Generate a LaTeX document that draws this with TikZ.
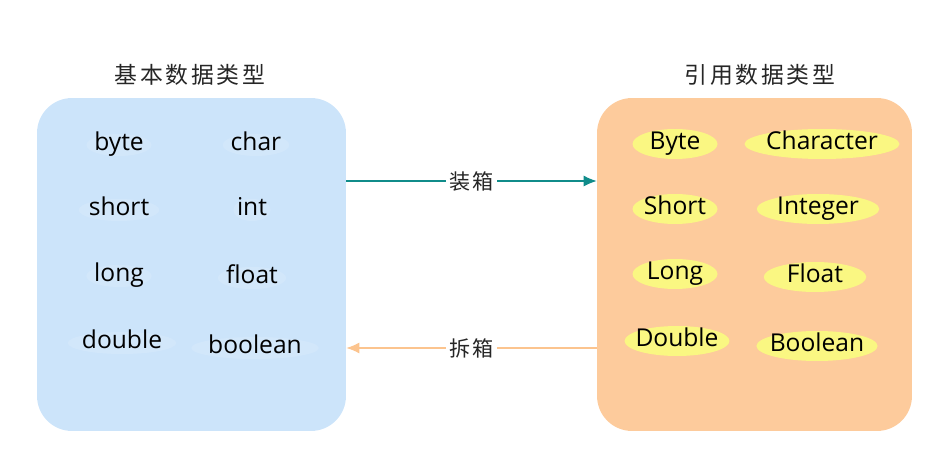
\documentclass[tikz,border=0pt]{standalone}
\usepackage{fontspec}
\setmainfont{Open Sans}
\newfontfamily\cjk[LetterSpace=12]{Noto Sans CJK SC}
\usepackage{xcolor}
\definecolor{PrimBlue}{RGB}{204,228,250}
\definecolor{RefOrange}{RGB}{253,203,156}
\definecolor{WrapYellow}{RGB}{250,247,130}
\definecolor{BoxTeal}{RGB}{16,140,138}
\definecolor{UnboxOrange}{RGB}{252,196,142}
\usetikzlibrary{positioning,arrows.meta,shapes,calc}

\begin{document}
\begin{tikzpicture}[x=0.02cm, y=-0.02cm,
    grp/.style={rectangle, rounded corners=0.7cm, minimum width=6.18cm, minimum height=6.66cm},
    ttl/.style={font=\cjk\fontsize{13}{15}\selectfont, text=black!85},
    prim/.style={font=\fontsize{14}{16}\selectfont, ellipse, fill=white, fill opacity=0.12, text opacity=1,
                 text height=1.45ex, text depth=0.2ex, inner xsep=-1pt, inner ysep=0pt},
    wrap/.style={font=\fontsize{14}{16}\selectfont, ellipse, fill=WrapYellow, minimum height=0.6cm,
                 text height=1.45ex, text depth=0.2ex, inner xsep=-2.5pt, inner ysep=-2pt},
    lbl/.style={font=\cjk\fontsize{12}{14}\selectfont, fill=white, inner sep=2pt, text=black!85},
    a/.style={-{Latex[length=2.6mm, width=2.2mm]}, line width=0.7pt}
]
    \useasboundingbox (0,0) rectangle (945,472);

    % the two groups
    \node[grp, fill=PrimBlue] (lbox) at (191.5,264.5) {};
    \node[grp, fill=RefOrange, minimum width=6.3cm] (rbox) at (754.5,264.5) {};
    \node[ttl] (ltitle) at (190,75) {基本数据类型};
    \node[ttl] (rtitle) at (760,75) {引用数据类型};

    % primitive types
    \node[prim] (byte) at (119,145) {byte};
    \node[prim] (char) at (256,145) {char};
    \node[prim] (short) at (119,210) {short};
    \node[prim] (int) at (252,210) {int};
    \node[prim] (long) at (119,276) {long};
    \node[prim] (float) at (252,278) {float};
    \node[prim] (double) at (122,343) {double};
    \node[prim] (boolean) at (255,348) {boolean};

    % wrapper classes
    \node[wrap, minimum width=1.7cm] (Byte) at (675,144) {Byte};
    \node[wrap, minimum width=3.1cm] (Character) at (822,144) {Character};
    \node[wrap, minimum width=1.7cm] (Short) at (675,209) {Short};
    \node[wrap, minimum width=2.45cm] (Integer) at (818,209) {Integer};
    \node[wrap, minimum width=1.7cm] (Long) at (675,274) {Long};
    \node[wrap, minimum width=2.05cm] (Float) at (815,277) {Float};
    \node[wrap, minimum width=1.7cm] (Double) at (677,341) {Double};
    \node[wrap, minimum width=2.15cm] (Boolean) at (817,346) {Boolean};

    % boxing / unboxing
    \draw[a, BoxTeal] ([yshift=1.67cm]lbox.east) -- node[lbl] {装箱} ([yshift=1.67cm]rbox.west);
    \draw[a, UnboxOrange] ([yshift=-1.67cm]rbox.west) -- node[lbl] {拆箱} ([yshift=-1.67cm]lbox.east);
\end{tikzpicture}
\end{document}
